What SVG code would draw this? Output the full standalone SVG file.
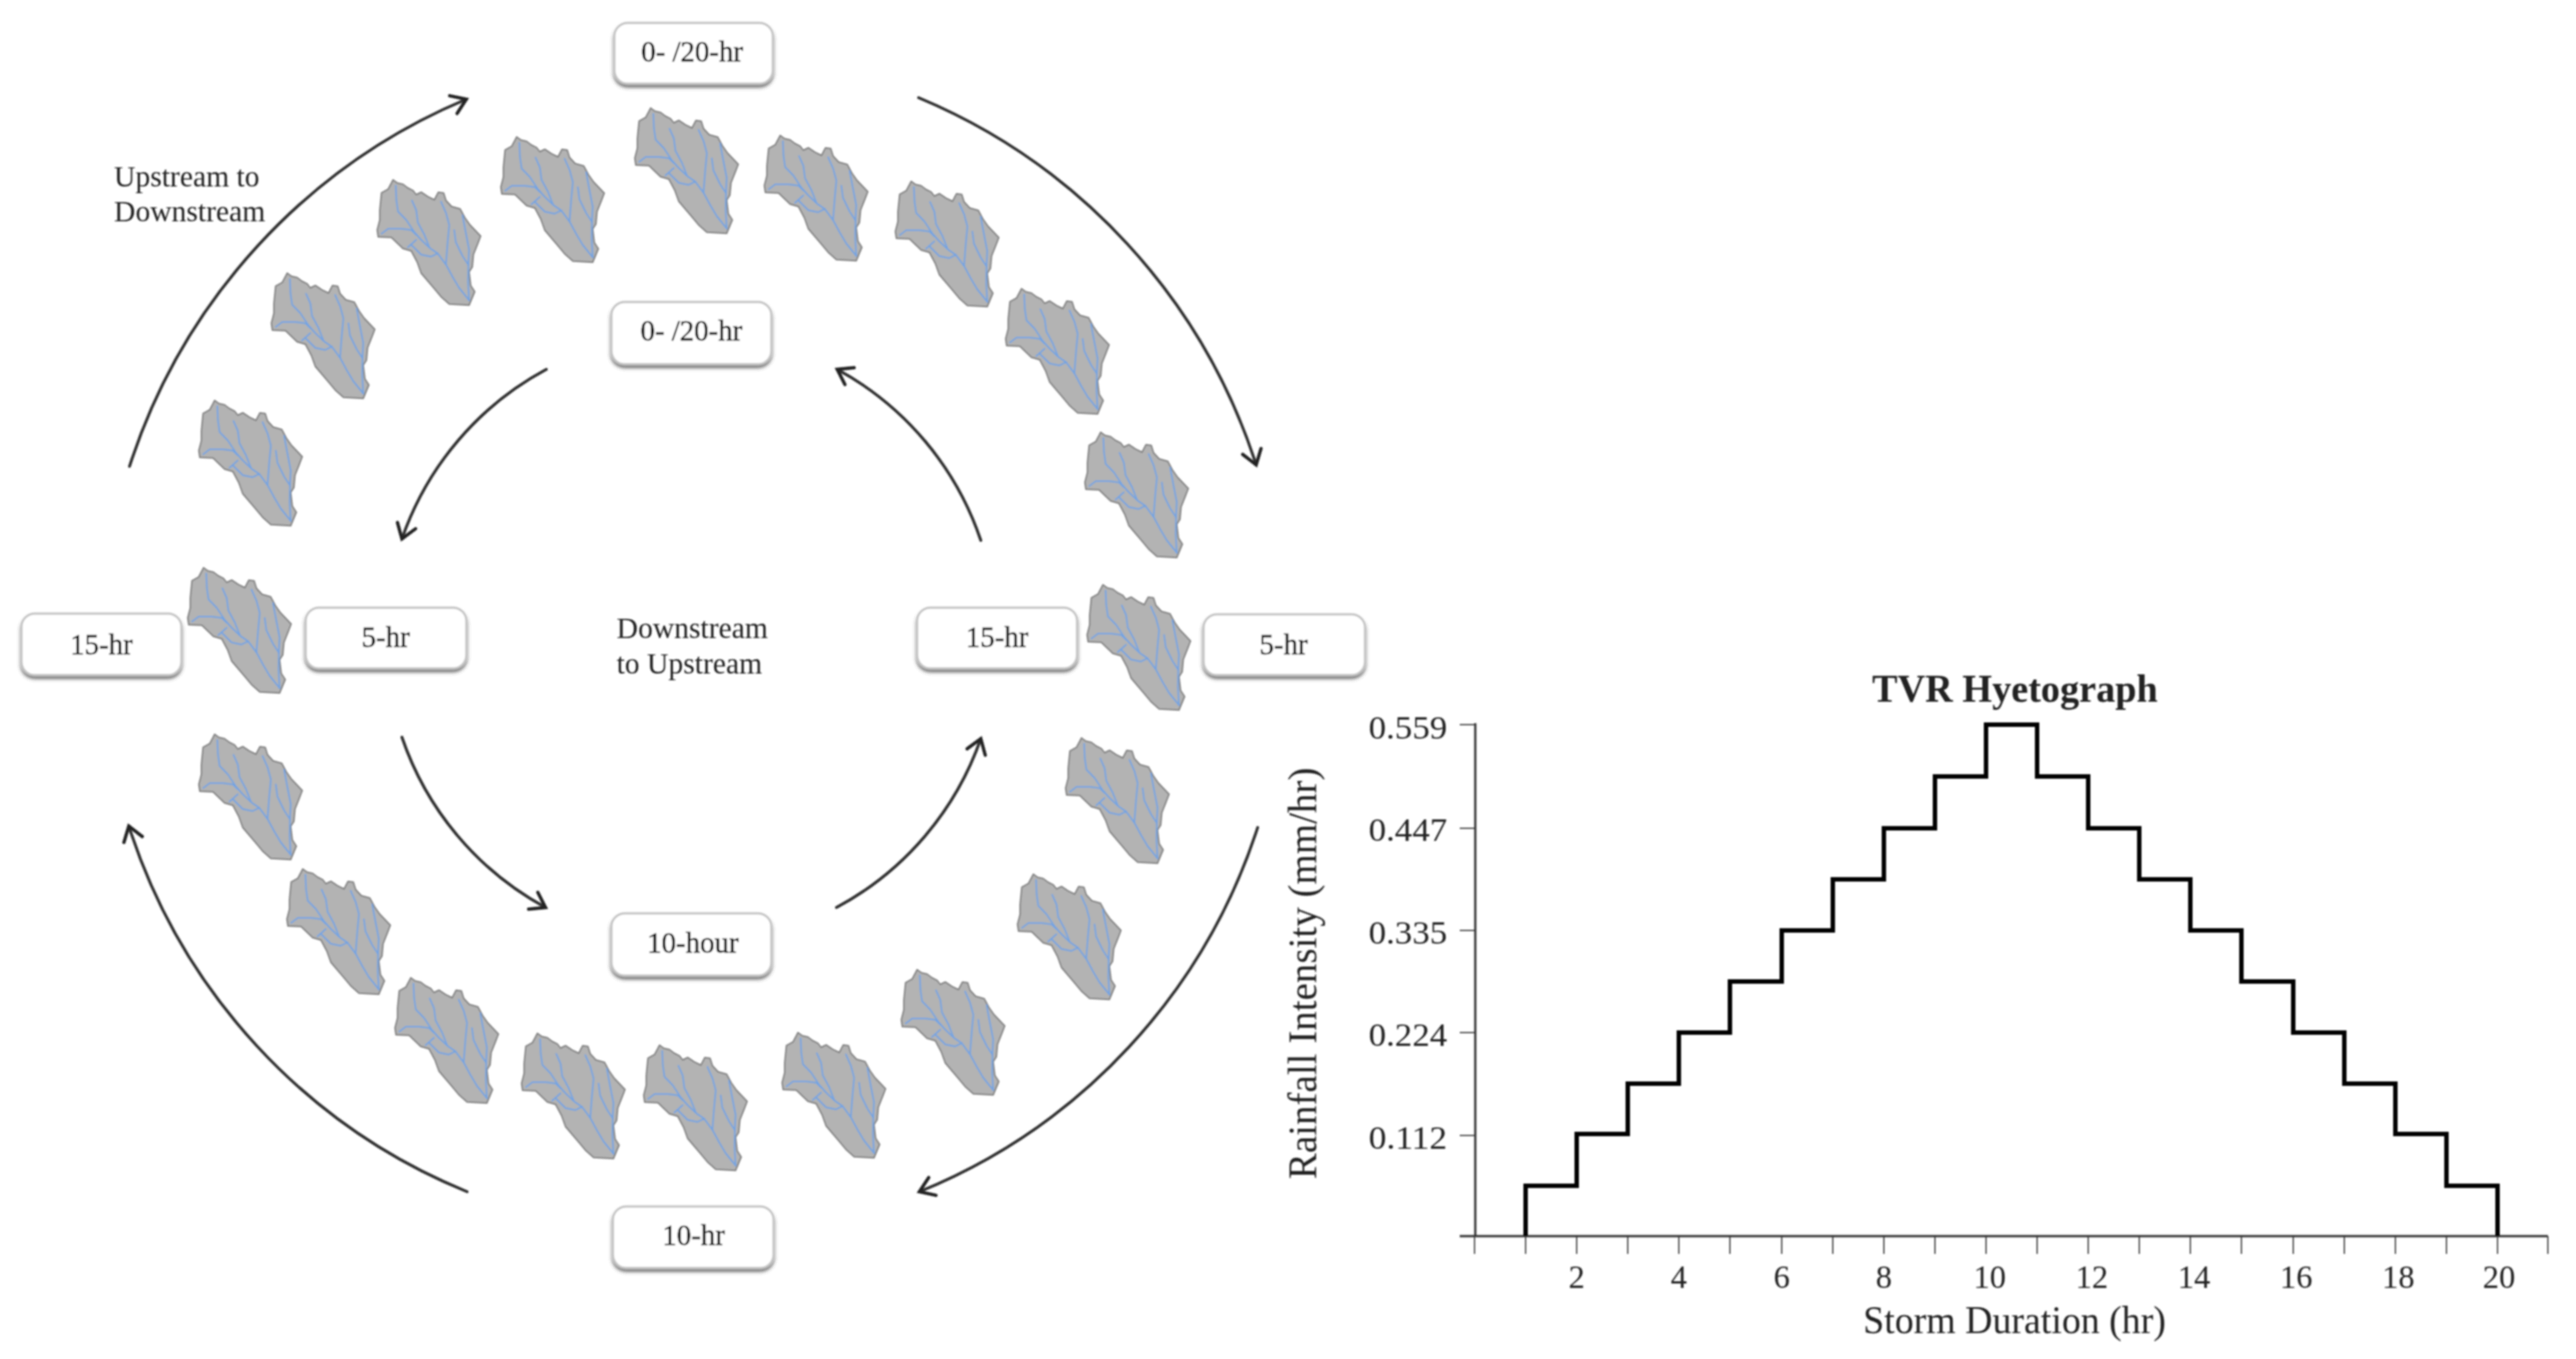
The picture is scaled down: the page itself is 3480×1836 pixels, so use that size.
<svg xmlns="http://www.w3.org/2000/svg" width="3480" height="1836" viewBox="0 0 3480 1836">
<style>
text{font-family:"Liberation Serif","Times New Roman",serif;fill:#222}
.lb{font-size:39px;text-anchor:middle;fill:#000;stroke:#000;stroke-width:.5}
.cap{font-size:40px}
.box{fill:#fff;stroke:#c4c4c4;stroke-width:3;filter:url(#sh)}
.arc{fill:none;stroke:#333;stroke-width:4;stroke-linecap:round}
.ar{marker-end:url(#head)}
.tick{stroke:#555;stroke-width:2;fill:none}
.ax{stroke:#333;stroke-width:3;fill:none}
.yl{font-size:44px;text-anchor:end}
.xl{font-size:44px;text-anchor:middle}
.basin{fill:#b3b3b3;stroke:#808080;stroke-width:2;stroke-linejoin:round}
.riv{fill:none;stroke:#6ea3e6;stroke-width:2;stroke-linejoin:round;stroke-linecap:round}
</style>
<defs>
<filter id="soft" filterUnits="userSpaceOnUse" x="0" y="0" width="3480" height="1836"><feGaussianBlur stdDeviation="0.9"/></filter>
<filter id="sh" x="-10%" y="-10%" width="120%" height="130%"><feDropShadow dx="0" dy="4" stdDeviation="2" flood-color="#555" flood-opacity="0.8"/></filter>
<marker id="head" markerUnits="userSpaceOnUse" markerWidth="50" markerHeight="50" refX="30" refY="25" orient="auto" overflow="visible"><path d="M11,12 L30,25 L11,38" fill="none" stroke="#222" stroke-width="4.5" stroke-linecap="round"/></marker>
<g id="ws">
<path class="basin" d="M0,0 L5.8,4.3 L13.4,6 L20,11 L26.8,14.3 L31.3,20 L38,16.7 L46.9,22.7 L55.8,27 L61.2,16.7 L68.3,17.7 L71.4,27.7 L79,36 L90.6,39.3 L96.9,51 L104,61 L118.3,76 L113.8,87.7 L108.5,101 L107,117.7 L102.7,124.3 L104.9,142.7 L110.3,151 L102.7,169.3 L75.9,167.7 L64.7,157.7 L53.6,144.3 L38,126 L32.6,111 L24.6,96 L13.4,92.7 L-2.2,77.7 L-20,77 L-21.4,67.7 L-17.9,54.3 L-17.9,41 L-15.6,17.7 L-6.7,12.7 Z"/>
<path class="riv" d="M3.6,7.7 L4.5,27.7 L6.7,42.7 L17.9,54.3 L29,71 L38,81 L50.4,92.7 L60.3,99.3 L71.4,114.3 L80.4,131 L89.3,146 L102.7,162.7"/>
<path class="riv" d="M25.4,27.7 L31.3,41 L33.5,57.7 L42.4,74.3 L49,91"/>
<path class="riv" d="M-15.6,72.7 L-6.7,66 L11.2,66 L24.6,67.7 L31.3,74.3"/>
<path class="riv" d="M64.7,29.3 L71.4,44.3 L75.9,61 L73.7,84.3 L71.4,114.3"/>
<path class="riv" d="M93.8,47.7 L98.2,71 L102.7,94.3 L101.8,111 L101.3,137.7 L102.7,162.7"/>
<path class="riv" d="M82.6,67.7 L84.8,84.3 L93.8,102.7 L101.3,114.3"/>
<path class="riv" d="M20,91 L31.3,81 M24.6,87.7 L38,101 L51.3,103.7 L60.3,99.3"/>
</g>
</defs>
<rect width="3480" height="1836" fill="#fff"/>
<g filter="url(#soft)">
<g id="watersheds">
<g id="ws01"><use href="#ws" transform="translate(879,146)"/></g>
<g id="ws02"><use href="#ws" transform="translate(698,185)"/></g>
<g id="ws03"><use href="#ws" transform="translate(1054,183)"/></g>
<g id="ws04"><use href="#ws" transform="translate(1231,245)"/></g>
<g id="ws05"><use href="#ws" transform="translate(531,243)"/></g>
<g id="ws06"><use href="#ws" transform="translate(388,369)"/></g>
<g id="ws07"><use href="#ws" transform="translate(290,541)"/></g>
<g id="ws08"><use href="#ws" transform="translate(275,767)"/></g>
<g id="ws09"><use href="#ws" transform="translate(290,992)"/></g>
<g id="ws10"><use href="#ws" transform="translate(409,1174)"/></g>
<g id="ws11"><use href="#ws" transform="translate(555,1321)"/></g>
<g id="ws12"><use href="#ws" transform="translate(726,1396)"/></g>
<g id="ws13"><use href="#ws" transform="translate(891,1412)"/></g>
<g id="ws14"><use href="#ws" transform="translate(1078,1395)"/></g>
<g id="ws15"><use href="#ws" transform="translate(1239,1310)"/></g>
<g id="ws16"><use href="#ws" transform="translate(1396,1181)"/></g>
<g id="ws17"><use href="#ws" transform="translate(1461,997)"/></g>
<g id="ws18"><use href="#ws" transform="translate(1490,790)"/></g>
<g id="ws19"><use href="#ws" transform="translate(1487,584)"/></g>
<g id="ws20"><use href="#ws" transform="translate(1380,390)"/></g>
</g>

<g id="connectors">
<path id="c-outer-tl" class="arc ar" d="M175,630 A805,805 0 0 1 630,134"/>
<path id="c-outer-tr" class="arc ar" d="M1241,132 A805,805 0 0 1 1697,628"/>
<path id="c-outer-br" class="arc ar" d="M1699,1118 A795,795 0 0 1 1242,1610"/>
<path id="c-outer-bl" class="arc ar" d="M631,1610 A795,795 0 0 1 174,1116"/>
<path id="c-inner-tl" class="arc ar" d="M738,499 A413,413 0 0 0 543,728"/>
<path id="c-inner-tr" class="arc ar" d="M1325,730 A413,413 0 0 0 1131,499"/>
<path id="c-inner-bl" class="arc ar" d="M543,996 A413,413 0 0 0 737,1226"/>
<path id="c-inner-br" class="arc ar" d="M1130,1226 A413,413 0 0 0 1325,998"/>
</g>

<g id="n-top-outer"><rect class="box" x="830" y="31" width="214" height="82" rx="18"/><text class="lb" x="935" y="83">0- /20-hr</text></g>
<g id="n-top-inner"><rect class="box" x="826" y="408" width="216" height="84" rx="18"/><text class="lb" x="934" y="460">0- /20-hr</text></g>
<g id="n-left-15"><rect class="box" x="29" y="829" width="216" height="83" rx="18"/><text class="lb" x="137" y="884">15-hr</text></g>
<g id="n-left-5"><rect class="box" x="413" y="821" width="217" height="82" rx="18"/><text class="lb" x="521" y="874">5-hr</text></g>
<g id="n-right-15"><rect class="box" x="1239" y="821" width="216" height="82" rx="18"/><text class="lb" x="1347" y="874">15-hr</text></g>
<g id="n-right-5"><rect class="box" x="1626" y="830" width="218" height="82" rx="18"/><text class="lb" x="1734" y="884">5-hr</text></g>
<g id="n-bot-inner"><rect class="box" x="826" y="1234" width="216" height="84" rx="18"/><text class="lb" x="936" y="1287">10-hour</text></g>
<g id="n-bot-outer"><rect class="box" x="828" y="1630" width="217" height="83" rx="18"/><text class="lb" x="937" y="1682">10-hr</text></g>

<g id="captions">
<text class="cap"><tspan x="154" y="252">Upstream to</tspan><tspan x="154" y="299">Downstream</tspan></text>
<text class="cap"><tspan x="833" y="862">Downstream</tspan><tspan x="833" y="910">to Upstream</tspan></text>
</g>

<g id="chart">
<text x="2529" y="948" font-size="52" font-weight="bold" textLength="386" lengthAdjust="spacingAndGlyphs">TVR Hyetograph</text>
<path class="tick" d="M1972,979H1993M1972,1119H1993M1972,1257H1993M1972,1395H1993M1972,1534H1993"/>
<path class="tick" d="M1992,1670V1694M2061,1670V1694M2130,1670V1694M2199,1670V1694M2268,1670V1694M2337,1670V1694M2407,1670V1694M2476,1670V1694M2545,1670V1694M2614,1670V1694M2683,1670V1694M2752,1670V1694M2821,1670V1694M2890,1670V1694M2959,1670V1694M3028,1670V1694M3098,1670V1694M3167,1670V1694M3236,1670V1694M3305,1670V1694M3374,1670V1694M3442,1670V1694"/>
<path class="ax" d="M1993,977V1670M1972,1670H3442"/>
<path id="hyetograph" fill="none" stroke="#000" stroke-width="6" stroke-linejoin="miter" d="M2061,1670V1602H2130V1532H2199V1464H2268V1395H2337V1326H2407V1257H2476V1188H2545V1119H2614V1049H2683V979H2752V1049H2821V1119H2890V1188H2959V1257H3028V1326H3098V1395H3167V1464H3236V1532H3305V1602H3374V1670"/>
<text class="yl" x="1955" y="998" textLength="106" lengthAdjust="spacingAndGlyphs">0.559</text>
<text class="yl" x="1955" y="1136" textLength="106" lengthAdjust="spacingAndGlyphs">0.447</text>
<text class="yl" x="1955" y="1275" textLength="106" lengthAdjust="spacingAndGlyphs">0.335</text>
<text class="yl" x="1955" y="1413" textLength="106" lengthAdjust="spacingAndGlyphs">0.224</text>
<text class="yl" x="1955" y="1552" textLength="106" lengthAdjust="spacingAndGlyphs">0.112</text>
<text class="xl" x="2130" y="1740">2</text>
<text class="xl" x="2268" y="1740">4</text>
<text class="xl" x="2407" y="1740">6</text>
<text class="xl" x="2545" y="1740">8</text>
<text class="xl" x="2688" y="1740">10</text>
<text class="xl" x="2826" y="1740">12</text>
<text class="xl" x="2964" y="1740">14</text>
<text class="xl" x="3102" y="1740">16</text>
<text class="xl" x="3240" y="1740">18</text>
<text class="xl" x="3376" y="1740">20</text>
<text x="2517" y="1801" font-size="52" textLength="409" lengthAdjust="spacingAndGlyphs">Storm Duration (hr)</text>
<text transform="translate(1778,1593) rotate(-90)" font-size="54" textLength="556" lengthAdjust="spacingAndGlyphs">Rainfall Intensity (mm/hr)</text>
</g>
</g>
</svg>
